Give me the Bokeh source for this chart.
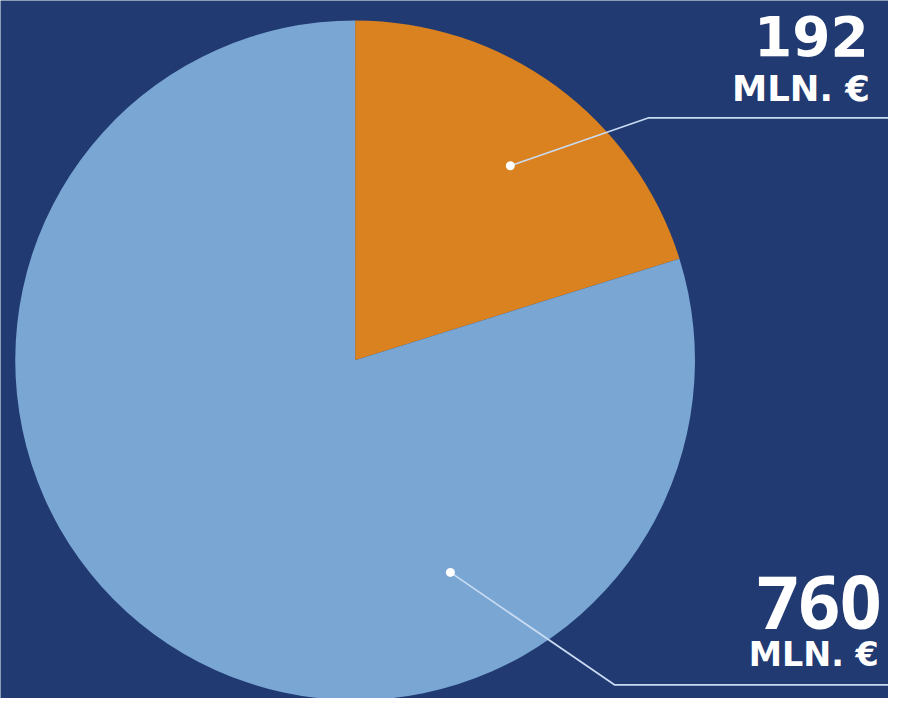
import math
from bokeh.plotting import figure
from bokeh.embed import file_html
from bokeh.resources import INLINE
from bokeh.core.properties import value

# ---- data ----
categories = ["A", "B"]
values = [192, 760]
value_labels = ["192", "760"]
unit_labels = ["MLN. €", "MLN. €"]
colors = ["#d9821f", "#79a6d3"]

BG = "#213a72"
LINE = "#c9dbf2"

W, H = 888, 698
REF_W, REF_H = 904, 714
S = W / REF_W
p = figure(width=W, height=H, x_range=(0, REF_W), y_range=(0, REF_H),
           output_backend="svg", toolbar_location=None, min_border=0)
p.axis.visible = False
p.grid.visible = False
p.outline_line_color = None
p.background_fill_color = BG
p.border_fill_color = BG

# pie geometry (data coords = reference pixel coords, y flipped)
cx, cy, r = 361, REF_H - 368, 346
total = sum(values)
start = math.pi / 2
starts, ends = [], []
for v in values:
    a = 2 * math.pi * v / total
    starts.append(start - a)
    ends.append(start)
    start -= a
p.wedge(x=[cx] * len(values), y=[cy] * len(values), radius=r,
        start_angle=starts, end_angle=ends, fill_color=colors, line_color=None)

# leader lines and dots
dots = [(519, 169), (458, 585)]
elbows = [(660, 120), (625, 700)]
for (dx, dy), (ex, ey) in zip(dots, elbows):
    p.line([dx, ex, REF_W], [REF_H - dy, REF_H - ey, REF_H - ey], line_color=LINE, line_width=1.7)
    p.scatter([dx], [REF_H - dy], size=9, fill_color="white", line_color=None)

# labels: (x_right, top y, font size px, font)
num_pos = [(884, 16, 56, "DejaVu Sans"), (897, 589, 74, "Open Sans")]
unit_pos = [(885, 69, 36, "DejaVu Sans"), (894, 649, 34, "DejaVu Sans")]
for i in range(len(values)):
    for (x, y, fs, fnt), txt in ((num_pos[i], value_labels[i]), (unit_pos[i], unit_labels[i])):
        p.text([x], [REF_H - y], text=[txt], text_align="right", text_baseline="top",
               text_font=value(fnt), text_font_style="bold", text_font_size=f"{fs * S:.1f}px",
               text_color="white")

open("out.html", "w").write(file_html(p, INLINE))
